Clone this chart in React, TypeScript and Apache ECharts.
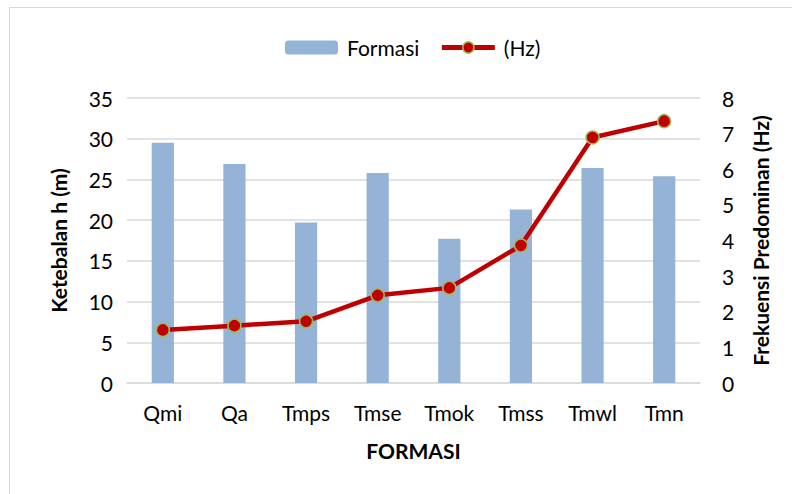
import React, { useEffect, useRef } from "react";
import * as echarts from "echarts";

const categories = ["Qmi", "Qa", "Tmps", "Tmse", "Tmok", "Tmss", "Tmwl", "Tmn"];
const thickness = [29.5, 26.9, 19.7, 25.8, 17.7, 21.3, 26.4, 25.4];
const frequency = [1.49, 1.61, 1.73, 2.46, 2.67, 3.86, 6.89, 7.35];

const FONT = "Lato, 'Open Sans', sans-serif";

export default function App() {
  const ref = useRef<HTMLDivElement>(null);
  useEffect(() => {
    document.body.style.margin = "0";
    const chart = echarts.init(ref.current!, null, { renderer: "svg" });
    chart.setOption({
      animation: false,
      backgroundColor: "#fff",
      textStyle: { fontFamily: FONT },
      graphic: [
        {
          type: "rect",
          shape: { x: 9.5, y: 7.5, width: 800, height: 500 },
          style: { fill: "none", stroke: "#d9d9d9", lineWidth: 1 },
          silent: true,
        },
      ],
      legend: {
        top: 32,
        left: 280,
        itemWidth: 53,
        itemHeight: 14,
        itemGap: 20,
        textStyle: { fontSize: 21, color: "#000", fontFamily: FONT, padding: [0, 0, 0, 4] },
        data: [
          { name: "Formasi" },
          {
            name: "(Hz)",
            lineStyle: { width: 5, color: "#C00000" },
            itemStyle: { color: "#C00000", borderColor: "#9BBB59", borderWidth: 1.5 },
          },
        ],
      },
      grid: { left: 127, right: 92, top: 98, bottom: 111, containLabel: false },
      xAxis: {
        type: "category",
        data: categories,
        name: "FORMASI",
        nameLocation: "middle",
        nameGap: 57,
        nameTextStyle: { fontSize: 21, fontWeight: "bold", color: "#000", fontFamily: FONT },
        axisLine: { lineStyle: { color: "#d9d9d9", width: 1.5 } },
        axisTick: { show: false },
        axisLabel: { fontSize: 21, color: "#000", margin: 19, fontFamily: FONT },
      },
      yAxis: [
        {
          type: "value",
          min: 0,
          max: 35,
          interval: 5,
          name: "Ketebalan h (m)",
          nameLocation: "middle",
          nameRotate: 90,
          nameGap: 58,
          nameTextStyle: { fontSize: 21, fontWeight: "bold", color: "#000", fontFamily: FONT },
          axisLabel: { fontSize: 21, color: "#000", margin: 14, fontFamily: FONT },
          splitLine: { lineStyle: { color: "#d9d9d9", width: 1.5 } },
          axisLine: { show: false },
          axisTick: { show: false },
        },
        {
          type: "value",
          min: 0,
          max: 8,
          interval: 1,
          name: "Frekuensi Predominan (Hz)",
          nameLocation: "middle",
          nameRotate: 90,
          nameGap: 50,
          nameTextStyle: { fontSize: 21, fontWeight: "bold", color: "#000", fontFamily: FONT },
          axisLabel: { fontSize: 21, color: "#000", margin: 22, fontFamily: FONT },
          splitLine: { show: false },
          axisLine: { show: false },
          axisTick: { show: false },
        },
      ],
      series: [
        {
          name: "Formasi",
          type: "bar",
          data: thickness,
          yAxisIndex: 0,
          barWidth: "31%",
          itemStyle: { color: "#95B3D7" },
        },
        {
          name: "(Hz)",
          type: "line",
          data: frequency,
          yAxisIndex: 1,
          symbol: "circle",
          symbolSize: 13,
          lineStyle: { color: "#C00000", width: 4.5 },
          itemStyle: { color: "#C00000", borderColor: "#9BBB59", borderWidth: 1.5 },
        },
      ],
    });
    return () => chart.dispose();
  }, []);
  return <div ref={ref} style={{ width: 792, height: 494 }} />;
}
